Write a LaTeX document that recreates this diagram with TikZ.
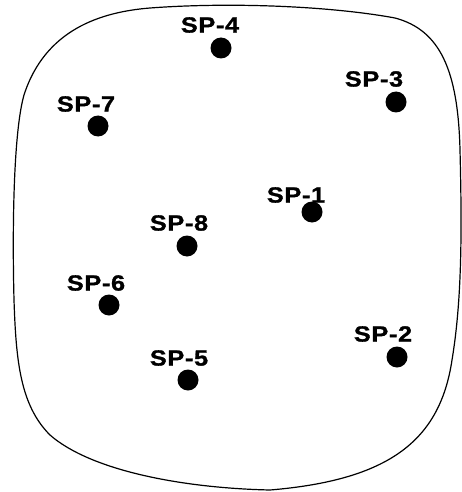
\documentclass[tikz,border=0pt]{standalone}
\usepackage{fontspec}
\newfontfamily\labfont[FakeStretch=1.15,LetterSpace=3,FakeBold=1.2]{Liberation Sans Bold}
\begin{document}
\begin{tikzpicture}[x=1pt,y=-1pt,
  spdot/.style={circle,fill=black,inner sep=0pt,minimum size=21pt},
  splabel/.style={font=\labfont\fontsize{22}{23}\selectfont,inner sep=0pt}]
\useasboundingbox (0,0) rectangle (461,492);
\draw[line width=1.2pt] (150,8)
  .. controls (230,2) and (330,6) .. (395,18)
  .. controls (440,30) and (458,70) .. (460,150)
  .. controls (462,230) and (462,300) .. (452,360)
  .. controls (440,440) and (390,480) .. (270,490)
  .. controls (180,488) and (90,470) .. (50,435)
  .. controls (20,405) and (16,360) .. (14,300)
  .. controls (12,220) and (14,130) .. (24,95)
  .. controls (45,30) and (100,12) .. (150,8) -- cycle;
\node[spdot] (d4) at (221,48) {};
\node[spdot] (d3) at (396,102) {};
\node[spdot] (d7) at (98,126) {};
\node[spdot] (d1) at (312,212) {};
\node[spdot] (d8) at (187,246) {};
\node[spdot] (d6) at (109,305) {};
\node[spdot] (d2) at (397,357) {};
\node[spdot] (d5) at (188,380) {};
\node[splabel] (l4) at (210,25) {SP-4};
\node[splabel] (l3) at (374,79) {SP-3};
\node[splabel] (l7) at (86,104) {SP-7};
\node[splabel] (l1) at (296,195) {SP-1};
\node[splabel] (l8) at (179,223) {SP-8};
\node[splabel] (l6) at (96,283) {SP-6};
\node[splabel] (l2) at (383,334) {SP-2};
\node[splabel] (l5) at (179,358) {SP-5};
\end{tikzpicture}
\end{document}
